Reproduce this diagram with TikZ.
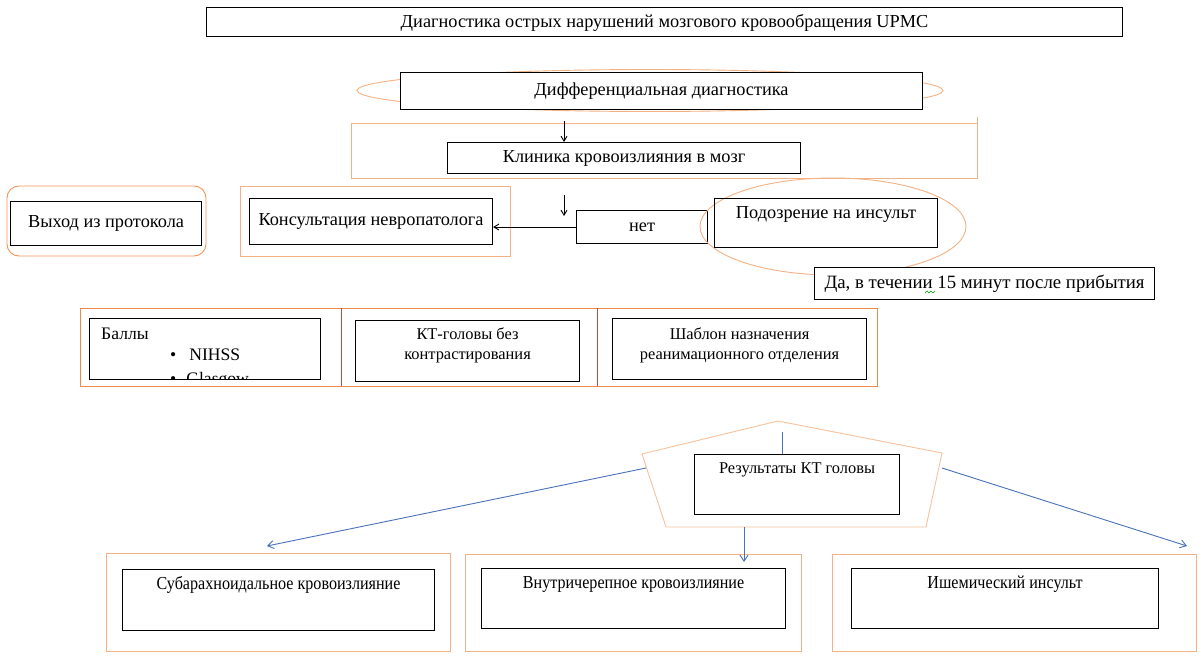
\documentclass[tikz,border=0pt]{standalone}
\usepackage{fontspec}
\setmainfont{Liberation Serif}
\usetikzlibrary{arrows.meta}
\definecolor{lorange}{HTML}{F4B183}
\definecolor{morange}{HTML}{ED7D31}
\definecolor{dred}{HTML}{B5523B}
\definecolor{lblue}{HTML}{4A72B8}
\begin{document}
\begin{tikzpicture}[x=1pt,y=-1pt,
  box/.style={draw=black,line width=1.1pt,rectangle,inner sep=0,anchor=north west},
  obox/.style={draw=lorange,line width=0.9pt},
  txt/.style={inner sep=0,font=\fontsize{18.3}{21}\selectfont},
  stxt/.style={inner sep=0,font=\fontsize{16.4}{20}\selectfont,align=center},
  btxt/.style={inner sep=0,font=\fontsize{18.3}{21}\selectfont},
  barr/.style={draw=black,line width=0.9pt,-{Straight Barb[length=5pt,width=6pt]}},
  blarr/.style={draw=lblue,line width=0.9pt,-{Straight Barb[length=6pt,width=8pt]}}]
\useasboundingbox (0,0) rectangle (1203,658);
\fill[white] (0,0) rectangle (1203,658);

% title
\node[box,minimum width=916pt,minimum height=29pt] (title) at (206,7) {};
\node[txt] (titlet) at ([yshift=-0.5pt]title.center) {Диагностика острых нарушений мозгового кровообращения UPMC};

% differential
\draw[obox] (650,90.5) ellipse [x radius=293, y radius=21];
\node[box,fill=white,minimum width=522pt,minimum height=37pt] (diff) at (400,72) {};
\node[txt] (difft) at (diff.center) {Дифференциальная диагностика};

% clinic
\draw[obox] (351,123) rectangle (977,178);
\draw[obox] (977,117) -- (977,123);
\node[box,minimum width=353pt,minimum height=31pt] (klin) at (447,142) {};
\node[txt] (klint) at (klin.center) {Клиника кровоизлияния в мозг};
\coordinate (a1) at (564,121);
\draw[barr] (a1) -- (a1 |- klin.north);

% exit
\draw[draw=morange!80,line width=0.9pt,rounded corners=12pt] (7,186) rectangle (206,256);
\node[box,minimum width=191pt,minimum height=44pt] (exit) at (10,201) {};
\node[txt] (exitt) at (exit.center) {Выход из протокола};

% consult
\draw[obox] (240,186) rectangle (510,256);
\node[box,minimum width=243pt,minimum height=46pt] (kons) at (249,198) {};
\node[txt] (konst) at (kons.center) {Консультация невропатолога};

\coordinate (a2s) at (564,195);
\coordinate (a2e) at (564,216);
\draw[barr] (a2s) -- (a2e);

% net
\node[box,minimum width=131pt,minimum height=33pt] (net) at (576,210) {};
\node[txt] (nett) at (net.center) {нет};
\draw[barr] (net.west) -- (net.west -| kons.east);

% suspicion
\draw[obox] (833,226.5) ellipse [x radius=133, y radius=48.5];
\node[box,minimum width=223pt,minimum height=49pt] (podoz) at (714,198) {};
\node[txt] (podozt) at ([yshift=-16pt]podoz.north) {Подозрение на инсульт};

\node[box,fill=white,minimum width=340pt,minimum height=32pt] (da) at (814,267) {};
\node[txt,font=\fontsize{18.8}{21}\selectfont] (dat) at (da.center) {Да, в течении 15 минут после прибытия};
\draw[green!60!black,line width=0.5pt] (925,293)--(927,291)--(929,293)--(931,291)--(933,293)--(935,291);

% row
\draw[draw=morange!90,line width=1pt] (80,308) rectangle (877,386);
\draw[dred,line width=0.9pt] (341,308) -- (341,386);
\draw[dred,line width=0.9pt] (597,308) -- (597,386);
\node[box,minimum width=231pt,minimum height=61pt] (ball) at (89,318) {};
\begin{scope}
\clip (90,319) rectangle (319,378);
\node[txt,anchor=west,font=\fontsize{17.6}{20}\selectfont] (ballt) at (101,334) {Баллы};
\node[txt,anchor=west,font=\fontsize{17.6}{20}\selectfont] (b1) at (170,355) {•\hspace{13pt}NIHSS};
\node[txt,anchor=west,font=\fontsize{17.6}{20}\selectfont] (b2) at (170,380) {•\hspace{10pt}Glasgow};
\end{scope}
\node[box,minimum width=224pt,minimum height=61pt] (kt) at (355,320) {};
\node[stxt] (ktt) at ([yshift=-25.5pt]kt.north) {КТ-головы без\\контрастирования};
\node[box,minimum width=254pt,minimum height=61pt] (shab) at (612,318) {};
\node[stxt] (shabt) at ([yshift=-27.5pt]shab.north) {Шаблон назначения\\реанимационного отделения};

% pentagon
\coordinate (p1) at (778,421);
\coordinate (p2) at (942,453);
\coordinate (p3) at (926,527);
\coordinate (p4) at (666,527);
\coordinate (p5) at (642,454);
\draw[draw=lorange!80,line width=0.9pt] (p1)--(p2)--(p3)--(p4)--(p5)--cycle;
\node[box,minimum width=205pt,minimum height=60pt] (res) at (694,454) {};
\node[stxt] (rest) at ([yshift=-16pt]res.north) {Результаты КТ головы};
\coordinate (v1) at (782,432);
\draw[lblue,line width=0.9pt] (v1) -- (v1 |- res.north);

% bottom
\draw[obox] (106,553) rectangle (450,651);
\node[box,minimum width=312pt,minimum height=61pt] (sub) at (122,569) {};
\node[btxt] (subt) at ([yshift=-16pt]sub.north) {\scalebox{0.88}[1]{Субарахноидальное кровоизлияние}};
\draw[obox] (465,554) rectangle (801,651);
\node[box,minimum width=304pt,minimum height=60pt] (vnut) at (481,568) {};
\node[btxt] (vnutt) at ([yshift=-16pt]vnut.north) {\scalebox{0.88}[1]{Внутричерепное кровоизлияние}};
\draw[obox] (832,554) rectangle (1196,651);
\node[box,minimum width=307pt,minimum height=60pt] (ish) at (851,568) {};
\node[btxt] (isht) at ([yshift=-16pt]ish.north) {\scalebox{0.88}[1]{Ишемический инсульт}};

\coordinate (l1) at (646,468);
\coordinate (l2) at (267,546);
\coordinate (r1) at (942,468);
\coordinate (r2) at (1187,546);
\coordinate (d1) at (744,527);
\coordinate (d2) at (744,562);
\draw[blarr] (l1) -- (l2);
\draw[blarr] (r1) -- (r2);
\draw[blarr] (d1) -- (d2);
\end{tikzpicture}
\end{document}
